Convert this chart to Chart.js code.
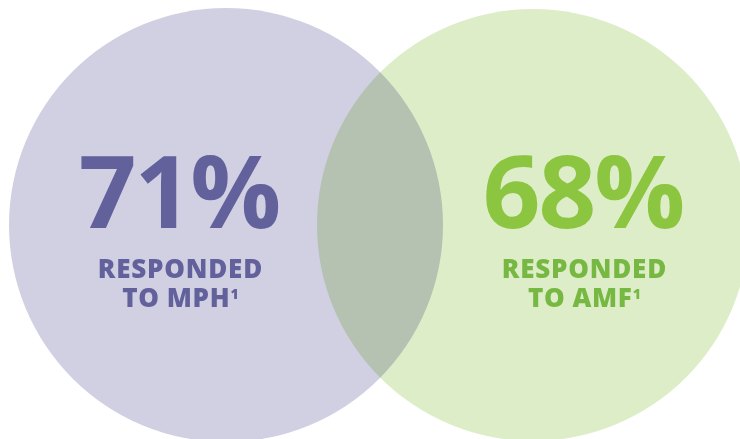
<!DOCTYPE html>
<html>
<head>
<meta charset="utf-8">
<script src="https://cdn.jsdelivr.net/npm/chart.js@4.4.1/dist/chart.umd.min.js"></script>
<style>
  html, body { margin: 0; padding: 0; background: #fff; }
  #wrap { width: 740px; height: 439px; }
</style>
</head>
<body>
<div id="wrap"><canvas id="vennChart"></canvas></div>
<script>
const treatments = ['MPH', 'AMF'];
const responseRates = [71, 68];
// circle centres and radii on the diagram grid (1 unit = 1 px)
const circleX = [226, 533];
const circleY = [225, 225];
const circleR = [217, 216];

const fills = ['#d1d0e2', '#ddedc8'];
const bigColors = ['#63619c', '#8cc53f'];
const smallColors = ['#63619c', '#77b843'];

// overlap shows through as a darker lens
const multiplyFill = {
  id: 'multiplyFill',
  beforeDatasetsDraw(chart) {
    chart.ctx.save();
    chart.ctx.globalCompositeOperation = 'multiply';
  },
  afterDatasetsDraw(chart) {
    chart.ctx.restore();
  }
};

function spacedText(ctx, text, x, y, spacing) {
  // letterSpacing adds a trailing gap, so nudge back by half of it
  ctx.letterSpacing = spacing + 'px';
  ctx.fillText(text, x + spacing / 2, y);
}

const vennLabels = {
  id: 'vennLabels',
  afterDraw(chart, args, opts) {
    const { ctx, scales: { x, y } } = chart;
    ctx.save();
    ctx.textBaseline = 'alphabetic';
    treatments.forEach((name, i) => {
      const cx = x.getPixelForValue(circleX[i]) + opts.offsets[i];
      const cy = y.getPixelForValue(circleY[i]);

      ctx.textAlign = 'center';
      ctx.fillStyle = bigColors[i];
      ctx.font = '700 101px "Open Sans"';
      spacedText(ctx, responseRates[i] + '%', cx, cy + 3, -2);

      ctx.fillStyle = smallColors[i];
      ctx.font = '800 26px "Open Sans"';
      spacedText(ctx, 'RESPONDED', cx, cy + 53, 0.8);

      // second line with a superscript footnote mark
      const sp = 0.6;
      const line2 = 'TO ' + name;
      ctx.letterSpacing = sp + 'px';
      ctx.font = '800 26px "Open Sans"';
      const w1 = ctx.measureText(line2).width - sp;
      ctx.letterSpacing = '0px';
      ctx.font = '800 14px "Open Sans"';
      const w2 = ctx.measureText('1').width;
      const left = cx - (w1 + w2) / 2;
      ctx.textAlign = 'left';
      ctx.letterSpacing = sp + 'px';
      ctx.font = '800 26px "Open Sans"';
      ctx.fillText(line2, left, cy + 82);
      ctx.letterSpacing = '0px';
      ctx.font = '800 14px "Open Sans"';
      ctx.fillText('1', left + w1 + 1, cy + 74);
    });
    ctx.restore();
  }
};

new Chart(document.getElementById('vennChart'), {
  type: 'bubble',
  data: {
    labels: treatments,
    datasets: [{
      data: circleX.map((cx, i) => ({ x: cx, y: circleY[i], r: circleR[i] })),
      backgroundColor: fills,
      borderWidth: 0,
      clip: false
    }]
  },
  options: {
    responsive: true,
    maintainAspectRatio: false,
    animation: false,
    events: [],
    layout: { padding: 0, autoPadding: false },
    scales: {
      x: { type: 'linear', min: 0, max: 740, display: false },
      y: { type: 'linear', min: 0, max: 439, reverse: true, display: false }
    },
    plugins: {
      legend: { display: false },
      tooltip: { enabled: false },
      vennLabels: { offsets: [-46, 51] }
    }
  },
  plugins: [multiplyFill, vennLabels]
});
</script>
</body>
</html>
